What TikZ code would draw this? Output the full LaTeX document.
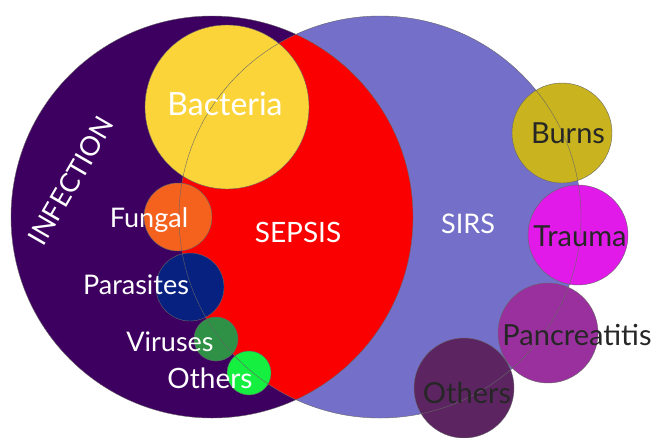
\documentclass[tikz,border=0pt]{standalone}
\usepackage{fontspec}
\setmainfont{Lato}
\usepackage{tikz}
\definecolor{inf}{HTML}{3E0060}
\definecolor{sirs}{HTML}{7470CA}
\definecolor{seps}{HTML}{FA0000}
\definecolor{bact}{HTML}{FBD43A}
\definecolor{fung}{HTML}{F4621E}
\definecolor{para}{HTML}{062180}
\definecolor{viru}{HTML}{2E9146}
\definecolor{othl}{HTML}{14EF40}
\definecolor{burn}{HTML}{C9B41F}
\definecolor{trau}{HTML}{E21AE9}
\definecolor{panc}{HTML}{9A2F9E}
\definecolor{othr}{HTML}{5C2562}

\begin{document}
\begin{tikzpicture}[x=1pt,y=-1pt,
  rim/.style={draw=black!60,line width=0.4pt},
  wlbl/.style={text=white,inner sep=0pt,anchor=base,font=\fontsize{27}{27}\selectfont},
  blbl/.style={text=black!85,inner sep=0pt,anchor=base,font=\fontsize{29}{29}\selectfont}]
  \useasboundingbox (0,0) rectangle (652,437);
  % the two big sets
  \coordinate (infc) at (212,217);
  \coordinate (sirc) at (380,217);
  \fill[inf] (infc) circle (201);
  \fill[sirs] (sirc) circle (201);
  \begin{scope}
    \clip (infc) circle (201);
    \fill[seps] (sirc) circle (201);
  \end{scope}
  \draw[rim] (infc) circle (201);
  % causes of infection
  \coordinate (bac) at (227,107);
  \coordinate (fun) at (178,217);
  \coordinate (par) at (190,287);
  \coordinate (vir) at (216,339);
  \coordinate (oth1) at (249,373);
  \filldraw[rim,fill=bact] (bac) circle (82);
  \filldraw[rim,fill=fung] (fun) circle (34);
  \filldraw[rim,fill=para] (par) circle (34);
  \filldraw[rim,fill=viru] (vir) circle (22);
  \filldraw[rim,fill=othl] (oth1) circle (22);
  % causes of SIRS
  \coordinate (brn) at (562,133);
  \coordinate (tra) at (578,235);
  \coordinate (pan) at (548,333);
  \coordinate (oth2) at (464,388);
  \filldraw[rim,fill=burn] (brn) circle (50);
  \filldraw[rim,fill=trau] (tra) circle (50);
  \filldraw[rim,fill=panc] (pan) circle (50);
  \filldraw[rim,fill=othr] (oth2) circle (50);
  \draw[rim] (sirc) circle (201);
  % labels
  \node[wlbl,anchor=center,rotate=60] (infl) at (71,181) {INFECTION};
  \node[wlbl,font=\fontsize{28}{28}\selectfont] (sepl) at (298,242) {SEPSIS};
  \node[wlbl] (sirl) at (468,233) {SIRS};
  \node[wlbl,font=\fontsize{32}{32}\selectfont] (bacl) at (225,115) {Bacteria};
  \node[wlbl] (funl) at (149,227) {Fungal};
  \node[wlbl] (parl) at (136,294) {Parasites};
  \node[wlbl] (virl) at (170,351) {Viruses};
  \node[wlbl,font=\fontsize{28}{28}\selectfont] (oth1l) at (210,388) {Others};
  \node[blbl] (brnl) at (568,143) {Burns};
  \node[blbl] (tral) at (580,246) {Trauma};
  \node[blbl] (panl) at (577,345) {Pancreatitis};
  \node[blbl] (oth2l) at (467,403) {Others};
\end{tikzpicture}
\end{document}
